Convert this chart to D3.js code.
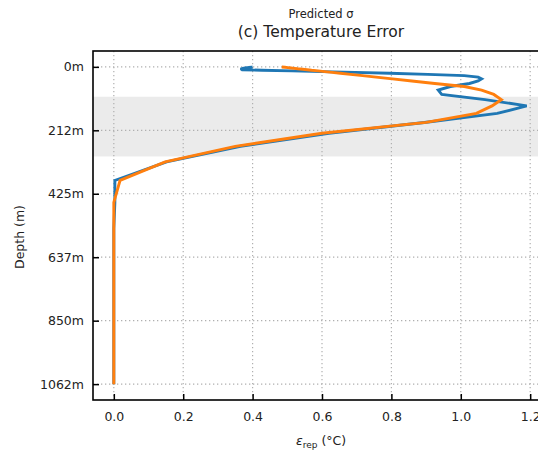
<!DOCTYPE html>
<html>
<head>
<meta charset="utf-8">
<script src="https://d3js.org/d3.v7.min.js"></script>
<style>
  body { margin: 0; background: white; }
  svg text { font-family: "DejaVu Sans", sans-serif; fill: #222; }
</style>
</head>
<body>
<svg id="chart" width="538" height="452"></svg>
<script>
// model depth levels (m)
const depths = [0.494, 1.541, 2.646, 3.819, 5.078, 6.441, 7.93, 9.573, 11.405, 13.467,
  15.81, 18.496, 21.599, 25.211, 29.445, 34.434, 40.344, 47.374, 55.764, 65.807,
  77.854, 92.326, 109.729, 130.666, 155.851, 186.126, 222.475, 266.04, 318.127, 380.213,
  453.938, 541.089, 643.567, 763.333, 902.339, 1062.44];

const blueErr = [0.40, 0.395, 0.385, 0.378, 0.372, 0.368, 0.368, 0.37, 0.427, 0.513,
  0.60, 0.695, 0.795, 0.905, 1.01, 1.05, 1.06, 1.05, 1.025, 0.97,
  0.935, 0.945, 1.07, 1.19, 1.105, 0.895, 0.62, 0.365, 0.152, 0.003,
  0.003, 0.0, 0.0, 0.0, 0.0, 0.0];

const orangeErr = [0.484, 0.493, 0.502, 0.511, 0.52, 0.53, 0.544, 0.557, 0.57, 0.589,
  0.608, 0.629, 0.653, 0.682, 0.717, 0.756, 0.803, 0.859, 0.925, 1.01,
  1.06, 1.095, 1.117, 1.09, 1.045, 0.90, 0.60, 0.35, 0.148, 0.018,
  0.0, 0.0, 0.0, 0.0, 0.0, 0.0];

const xTicks = [0, 0.2, 0.4, 0.6, 0.8, 1.0, 1.2];
const yTicks = [0, 212.488, 424.976, 637.464, 849.952, 1062.44];
const yTickLabels = ["0m", "212m", "425m", "637m", "850m", "1062m"];
const band = [100, 300];

const svg = d3.select("#chart");
const margin = {left: 93, top: 51, right: 551, bottom: 400};

const x = d3.scaleLinear().domain([-0.06, 1.26]).range([margin.left, margin.right]);
const y = d3.scaleLinear().domain([-53.1, 1115.6]).range([margin.top, margin.bottom]);

// shaded band
svg.append("rect")
  .attr("x", margin.left).attr("y", y(band[0]))
  .attr("width", margin.right - margin.left)
  .attr("height", y(band[1]) - y(band[0]))
  .attr("fill", "#ebebeb");

// grid
svg.append("g").selectAll("line").data(xTicks).join("line")
  .attr("x1", d => x(d)).attr("x2", d => x(d))
  .attr("y1", margin.top).attr("y2", margin.bottom)
  .attr("stroke", "#b0b0b0").attr("stroke-width", 1.2)
  .attr("stroke-dasharray", "1.3,2.7");
svg.append("g").selectAll("line").data(yTicks).join("line")
  .attr("y1", d => y(d)).attr("y2", d => y(d))
  .attr("x1", margin.left).attr("x2", margin.right)
  .attr("stroke", "#b0b0b0").attr("stroke-width", 1.2)
  .attr("stroke-dasharray", "1.3,2.7");

// lines
const line = d3.line().x(d => x(d[0])).y(d => y(d[1]));
svg.append("path")
  .datum(blueErr.map((v, i) => [v, depths[i]]))
  .attr("d", line).attr("fill", "none")
  .attr("stroke", "#1f77b4").attr("stroke-width", 2.9)
  .attr("stroke-linejoin", "miter");
svg.append("path")
  .datum(orangeErr.map((v, i) => [v, depths[i]]))
  .attr("d", line).attr("fill", "none")
  .attr("stroke", "#ff7f0e").attr("stroke-width", 2.9)
  .attr("stroke-linejoin", "miter");

// axes (ticks inside)
const xAxis = svg.append("g")
  .attr("transform", `translate(0,${margin.bottom})`)
  .call(d3.axisBottom(x).tickValues(xTicks).tickFormat(d3.format(".1f"))
    .tickSizeInner(-6).tickSizeOuter(0).tickPadding(12));
const yAxis = svg.append("g")
  .attr("transform", `translate(${margin.left},0)`)
  .call(d3.axisLeft(y).tickValues(yTicks).tickFormat((d, i) => yTickLabels[i])
    .tickSizeInner(-6).tickSizeOuter(0).tickPadding(9));

[xAxis, yAxis].forEach(g => {
  g.select(".domain").remove();
  g.selectAll(".tick line").attr("stroke", "#000").attr("stroke-width", 1.5);
  g.selectAll(".tick text").attr("font-size", 12.5).attr("fill", "#222")
    .style("font-family", "DejaVu Sans, sans-serif");
});

// frame
svg.append("rect")
  .attr("x", margin.left).attr("y", margin.top)
  .attr("width", margin.right - margin.left)
  .attr("height", margin.bottom - margin.top)
  .attr("fill", "none").attr("stroke", "#000").attr("stroke-width", 1.6);

// titles
svg.append("text").attr("x", 321).attr("y", 18).attr("text-anchor", "middle")
  .attr("font-size", 11.5).text("Predicted σ");
svg.append("text").attr("x", 321).attr("y", 37).attr("text-anchor", "middle")
  .attr("font-size", 15.5).text("(c) Temperature Error");

// axis labels
const xl = svg.append("text").attr("x", 321).attr("y", 445).attr("text-anchor", "middle")
  .attr("font-size", 12.5);
xl.append("tspan").attr("font-style", "italic").text("ε");
xl.append("tspan").attr("font-size", 9).attr("dy", 3).text("rep");
xl.append("tspan").attr("dy", -3).text(" (°C)");

svg.append("text")
  .attr("transform", "translate(24,237) rotate(-90)")
  .attr("text-anchor", "middle").attr("font-size", 12.5)
  .text("Depth (m)");
</script>
</body>
</html>
